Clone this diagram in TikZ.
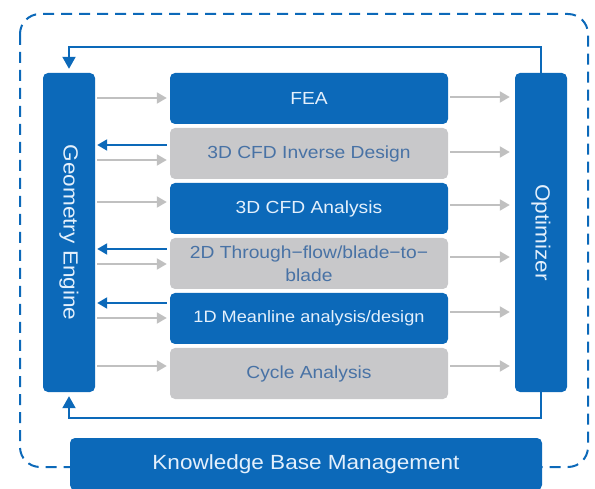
\documentclass[tikz,border=0pt]{standalone}
\usepackage{fontspec}
\setmainfont{Liberation Sans}[FakeStretch=1.1]
\usetikzlibrary{arrows.meta,calc}
\definecolor{mblue}{RGB}{12,105,185}
\definecolor{gbox}{RGB}{200,200,202}
\definecolor{gtext}{RGB}{72,114,165}
\definecolor{agray}{RGB}{192,192,192}
\definecolor{wtext}{RGB}{228,240,252}
\tikzset{
  blk/.style={rectangle, rounded corners=5pt, minimum width=278pt, minimum height=51pt,
    inner sep=0pt, align=center, font=\fontsize{17.5}{23}\selectfont},
  bluebox/.style={blk, fill=mblue, text=wtext},
  graybox/.style={blk, fill=gbox, text=gtext},
  sidebox/.style={rectangle, rounded corners=5pt, fill=mblue, minimum width=52pt,
    minimum height=319pt, inner sep=0pt},
  sidetext/.style={rotate=-90, text=wtext, font=\fontsize{20.5}{24}\selectfont},
  garrow/.style={draw=agray, line width=2pt, -{Triangle[length=10pt,width=11pt]}},
  barrow/.style={draw=mblue, line width=2pt, -{Triangle[length=10pt,width=11pt]}},
  loopline/.style={draw=mblue, line width=2pt, -{Triangle[length=12pt,width=13pt]}},
  border/.style={draw=mblue, line width=2pt, dash pattern=on 11pt off 7pt, rounded corners=20pt},
}
\begin{document}
\begin{tikzpicture}[x=1pt,y=-1pt]
\useasboundingbox (0,0) rectangle (595,489);
\draw[border] (20,14) rectangle (588,467);

\node[sidebox] (ge) at (69,232.5) {};
\node[sidetext] (getext) at (ge) {Geometry Engine};
\node[sidebox] (opt) at (541,232.5) {};
\node[sidetext] (opttext) at (opt) {Optimizer};

\node[bluebox] (fea) at (309,98.5) {FEA};
\node[graybox] (inv) at (309,153.5) {3D CFD Inverse Design};
\node[bluebox] (cfd) at (309,208.5) {3D CFD Analysis};
\node[graybox] (twod) at (309,263.5) {2D Through−flow/blade−to−\\blade};
\node[bluebox, font=\fontsize{16.5}{20}\selectfont] (oned) at (309,318.5) {1D Meanline analysis/design};
\node[graybox] (cyc) at (309,373.5) {Cycle Analysis};

\node[rectangle, rounded corners=5pt, fill=mblue, text=wtext, minimum width=472pt,
  minimum height=52pt, inner sep=0pt, font=\fontsize{20.5}{24}\selectfont] (kb) at (306,464)
  {Knowledge Base Management};

% left side gray arrows (engine -> tools)
\draw[garrow, shorten <=2pt, shorten >=3pt] ($(fea.west -| ge.east)+(0,-0.5)$) -- ($(fea.west)+(0,-0.5)$);
\draw[garrow, shorten <=2pt, shorten >=3pt] ($(inv.west -| ge.east)+(0,6.5)$) -- ($(inv.west)+(0,6.5)$);
\draw[garrow, shorten <=2pt, shorten >=3pt] ($(cfd.west -| ge.east)+(0,-6.5)$) -- ($(cfd.west)+(0,-6.5)$);
\draw[garrow, shorten <=2pt, shorten >=3pt] ($(twod.west -| ge.east)+(0,0.5)$) -- ($(twod.west)+(0,0.5)$);
\draw[garrow, shorten <=2pt, shorten >=3pt] ($(oned.west -| ge.east)+(0,-0.5)$) -- ($(oned.west)+(0,-0.5)$);
\draw[garrow, shorten <=2pt, shorten >=3pt] ($(cyc.west -| ge.east)+(0,-7.5)$) -- ($(cyc.west)+(0,-7.5)$);

% left side blue arrows (tools -> engine)
\draw[barrow, shorten <=3pt, shorten >=2pt] ($(inv.west)+(0,-8.5)$) -- ($(inv.west -| ge.east)+(0,-8.5)$);
\draw[barrow, shorten <=3pt, shorten >=2pt] ($(twod.west)+(0,-14.5)$) -- ($(twod.west -| ge.east)+(0,-14.5)$);
\draw[barrow, shorten <=3pt, shorten >=2pt] ($(oned.west)+(0,-15.5)$) -- ($(oned.west -| ge.east)+(0,-15.5)$);

% right side gray arrows (tools -> optimizer)
\draw[garrow, shorten <=2pt, shorten >=5pt] ($(fea.east)+(0,-1.5)$) -- ($(fea.east -| opt.west)+(0,-1.5)$);
\draw[garrow, shorten <=2pt, shorten >=5pt] ($(inv.east)+(0,-1.5)$) -- ($(inv.east -| opt.west)+(0,-1.5)$);
\draw[garrow, shorten <=2pt, shorten >=5pt] ($(cfd.east)+(0,-3.5)$) -- ($(cfd.east -| opt.west)+(0,-3.5)$);
\draw[garrow, shorten <=2pt, shorten >=5pt] ($(twod.east)+(0,-6.5)$) -- ($(twod.east -| opt.west)+(0,-6.5)$);
\draw[garrow, shorten <=2pt, shorten >=5pt] ($(oned.east)+(0,-6.5)$) -- ($(oned.east -| opt.west)+(0,-6.5)$);
\draw[garrow, shorten <=2pt, shorten >=5pt] ($(cyc.east)+(0,-7.5)$) -- ($(cyc.east -| opt.west)+(0,-7.5)$);

% feedback loops
\draw[loopline, shorten >=4pt] (opt.north) -- ++(0,-26) -| (ge.north);
\draw[loopline, shorten >=4pt] (opt.south) -- ++(0,26) -| (ge.south);
\end{tikzpicture}
\end{document}
